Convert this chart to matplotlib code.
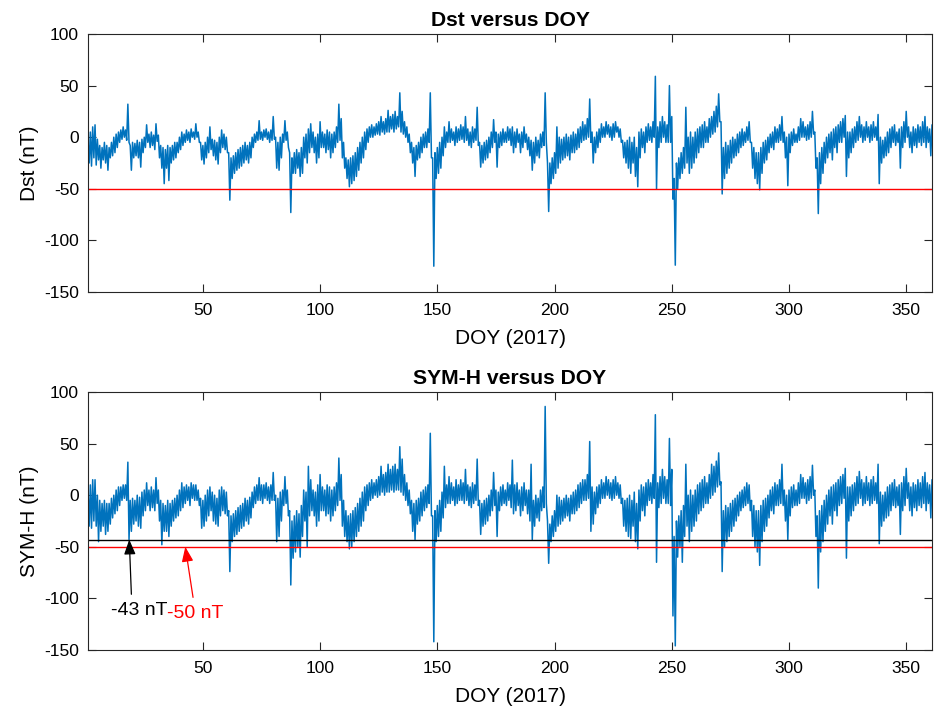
import numpy as np
import matplotlib
matplotlib.use("Agg")
import matplotlib.pyplot as plt

plt.rcParams['font.family'] = ['Liberation Sans', 'DejaVu Sans']
plt.rcParams['axes.unicode_minus'] = False

# Daily high / low estimates (nT), DOY 1..361
dst_hi = [-3, 5, 10, 12, -2, -8, -10, -5, -8, -10,
          -5, 0, 3, 5, 7, 10, 7, 32, -8, -5,
          -6, -3, -5, -2, 0, 12, 3, 5, 2, 13,
          2, -8, -10, -12, -8, -10, -8, -5, -5, 0,
          5, 3, 7, 5, 8, 5, 13, 5, -5, -8,
          -5, 0, 10, -2, -3, -5, 0, 7, 3, 0,
          -15, -20, -18, -15, -12, -10, -8, -5, -8, -5,
          0, 3, 5, 16, 5, 7, 8, 5, 7, 20,
          0, -5, 0, 3, 16, 5, -15, -20, -15, -12,
          -15, -10, 0, 3, 8, 13, 5, 0, 3, 15,
          5, 3, 7, 5, 3, 5, 10, 32, 18, -5,
          -20, -22, -20, -18, -15, -10, -5, 0, 5, 8,
          10, 12, 10, 13, 15, 20, 15, 18, 26, 20,
          22, 25, 20, 43, 25, 15, 10, 3, -5, -10,
          -8, -5, 0, 3, 5, 8, 43, -20, -15, -10,
          -5, 0, 10, 5, 15, 8, 5, 10, 8, 12,
          10, 20, 8, 5, 10, 8, 29, -5, -8, -5,
          -3, 0, 5, 17, 5, 3, 5, 8, 5, 10,
          8, 10, 5, 8, 3, 5, 10, 3, 0, -3,
          -5, 0, -3, 3, 5, 43, -25, -25, -20, -15,
          10, 0, -2, 0, 3, 0, 2, 5, 3, 8,
          10, 15, 12, 18, 37, 5, 0, 5, 8, 13,
          10, 15, 12, 10, 13, 15, 10, 8, -3, -5,
          -3, 0, -5, 0, -10, 5, 8, 5, 10, 13,
          10, 15, 59, 10, 15, 20, 15, 12, 50, 20,
          -40, -25, -20, -15, -10, 29, 0, 5, 0, 5,
          8, 10, 12, 15, 10, 18, 20, 25, 30, 42,
          15, -10, -5, -8, -3, 0, -2, 3, 5, 8,
          5, 10, 15, -5, -10, -15, -15, -10, -5, -3,
          0, 3, 5, 10, 8, 12, 20, 5, 0, 3,
          5, 8, 3, 10, 18, 15, 10, 12, 15, 25,
          5, -20, -15, -10, -5, 0, 3, 5, 8, 10,
          12, 15, 18, 21, 5, 5, 8, 10, 15, 20,
          12, 10, 15, 10, 12, 15, 10, 22, 0, -3,
          0, 5, 8, 10, 12, 5, 8, 10, 15, 25,
          10, 5, 10, 8, 12, 10, 15, 20, 10, 8, 12]
dst_lo = [-25, -28, -20, -27, -22, -30, -22, -25, -32, -20,
          -18, -15, -10, -5, -2, 0, -3, -5, -32, -20,
          -18, -20, -29, -15, -10, -5, -10, -8, -12, -4,
          -20, -30, -45, -30, -42, -25, -22, -20, -15, -12,
          -8, -5, -3, -5, 0, -2, 0, -5, -22, -26,
          -20, -15, -12, -18, -22, -26, -15, -10, -12, -15,
          -61, -40, -35, -32, -30, -28, -25, -22, -25, -20,
          -10, -5, -3, -2, -3, 0, -2, -5, -3, -2,
          -30, -32, -20, -5, -3, -10, -73, -35, -35, -30,
          -38, -35, -20, -25, -15, -10, -15, -25, -20, -10,
          -10, -15, -12, -20, -15, -10, -5, -3, -20, -30,
          -40, -48, -45, -42, -38, -32, -25, -20, -12, -5,
          0, 0, 2, 3, 2, 5, 3, 5, 5, 8,
          5, 8, 10, 5, 3, 0, -5, -15, -25, -38,
          -22, -20, -15, -10, -10, -5, -20, -125, -40, -35,
          -30, -18, -10, -5, -5, -3, -8, -5, -3, -2,
          -5, -3, -8, -10, -5, -3, -8, -29, -25, -22,
          -20, -15, -10, -5, -29, -10, -8, -5, -5, -3,
          -8, -15, -10, -5, -15, -10, -5, -12, -18, -32,
          -25, -18, -20, -10, -8, -5, -72, -45, -40, -35,
          -30, -25, -22, -20, -18, -22, -15, -15, -12, -10,
          -5, -3, -2, 0, -5, -25, -15, -10, -5, 0,
          0, 3, 0, -3, 0, 5, 0, -5, -20, -25,
          -30, -35, -25, -38, -48, -20, -10, -15, -5, -3,
          -5, 0, -50, -10, -5, 0, -5, -5, -5, -60,
          -124, -50, -40, -35, -30, -25, -35, -30, -25, -20,
          -15, -10, -10, -5, -5, 0, 3, 5, 10, 15,
          -55, -40, -35, -30, -25, -20, -18, -15, -10, -8,
          -5, -3, -5, -30, -40, -45, -51, -35, -25, -22,
          -15, -10, -12, -5, -5, -3, -5, -20, -47, -15,
          -8, -5, -5, -3, 0, 0, -3, -2, 0, 3,
          -30, -74, -45, -35, -25, -20, -15, -22, -10, -15,
          -5, -5, 0, -38, -20, -15, -10, -5, -3, 0,
          -5, -3, 0, -5, -3, 0, -3, -45, -25, -20,
          -18, -15, -10, -5, -8, -5, -30, -10, -5, 0,
          -10, -15, -8, -10, -5, -8, -5, -10, -5, -18, -5]
sym_hi = [5, 10, 15, 15, 0, -5, -8, -5, -8, -8,
          -3, 0, 5, 8, 8, 10, 10, 32, -5, -3,
          -5, 0, -2, 3, 5, 12, 5, 8, 5, 17,
          5, -5, -8, -10, -5, -8, -5, -3, 0, 5,
          12, 8, 10, 8, 12, 10, 10, 5, -3, -5,
          0, 5, 8, 3, 0, -3, 5, 8, 5, 3,
          -15, -20, -18, -15, -12, -10, -8, -3, -5, -2,
          3, 8, 10, 17, 10, 10, 12, 8, 10, 22,
          0, -3, 3, 5, 18, 5, -15, -25, -20, -15,
          -18, -10, 5, 3, 28, 15, 5, 3, 10, 20,
          8, 5, 10, 8, 5, 8, 12, 36, 20, -5,
          -15, -20, -18, -15, -12, -8, -3, 3, 8, 10,
          12, 15, 12, 15, 18, 28, 20, 22, 30, 25,
          28, 30, 25, 47, 35, 20, 12, 5, -5, -8,
          -5, -3, 3, 5, 8, 10, 60, -20, -15, -10,
          -5, 3, 28, 10, 18, 12, 8, 15, 10, 15,
          12, 25, 10, 8, 12, 10, 35, -5, -8, -5,
          -3, 0, 5, 22, 5, 3, 8, 10, 5, 12,
          10, 34, 10, 12, 5, 8, 12, 5, 5, 30,
          -5, 0, -3, 5, 8, 86, -25, -28, -20, -15,
          0, -2, -5, -3, 0, -3, 0, 3, 5, 10,
          12, 15, 15, 20, 52, 8, 3, 8, 10, 15,
          12, 18, 15, 12, 15, 18, 12, 10, -3, -5,
          -3, 0, -5, 3, -8, 5, 10, 8, 12, 15,
          12, 20, 78, 12, 18, 25, 18, 15, 55, 25,
          -40, -25, -20, -15, -10, 30, 0, 5, 0, 5,
          10, 12, 15, 18, 12, 20, 30, 28, 33, 41,
          13, -15, -10, -12, -8, -5, -3, 0, 3, 5,
          8, 12, 10, -5, -10, -15, -15, -10, -5, -3,
          0, 5, 8, 12, 10, 15, 30, 5, 0, 5,
          8, 10, 5, 12, 20, 17, 12, 15, 18, 29,
          5, -20, -15, -10, -5, 0, 5, 8, 10, 12,
          15, 18, 20, 26, 8, 8, 10, 12, 18, 23,
          15, 12, 18, 12, 15, 18, 12, 30, 3, 0,
          3, 8, 10, 12, 15, 8, 10, 12, 18, 26,
          12, 8, 12, 10, 15, 12, 18, 22, 12, 10, 15]
sym_lo = [-30, -32, -25, -30, -45, -35, -30, -38, -35, -28,
          -22, -18, -15, -10, -5, -3, -5, -43, -35, -28,
          -25, -30, -32, -20, -15, -10, -15, -12, -15, -8,
          -25, -48, -35, -35, -40, -30, -25, -22, -20, -15,
          -12, -8, -5, -10, -3, -5, -5, -10, -32, -30,
          -25, -20, -15, -25, -28, -30, -20, -15, -18, -20,
          -74, -45, -40, -38, -35, -32, -30, -25, -28, -22,
          -12, -8, -5, -5, -8, -3, -5, -8, -5, -5,
          -45, -40, -25, -10, -8, -20, -87, -61, -55, -50,
          -60, -40, -25, -50, -20, -15, -20, -30, -25, -15,
          -15, -20, -18, -25, -20, -15, -10, -5, -30, -40,
          -45, -52, -50, -45, -40, -35, -30, -25, -15, -10,
          -5, -3, 0, -2, 0, 3, 0, 3, 3, 5,
          3, 5, 5, 3, 0, -5, -10, -18, -35, -43,
          -28, -25, -20, -15, -12, -8, -20, -142, -45, -40,
          -35, -22, -12, -8, -8, -5, -10, -8, -5, -5,
          -8, -5, -10, -12, -8, -5, -10, -38, -30, -28,
          -25, -20, -15, -10, -40, -15, -10, -8, -10, -5,
          -12, -18, -15, -10, -20, -15, -10, -18, -25, -43,
          -30, -22, -25, -15, -12, -8, -66, -45, -40, -35,
          -30, -28, -25, -22, -20, -25, -18, -18, -15, -12,
          -8, -5, -5, -3, -35, -28, -18, -12, -8, -3,
          -3, 0, -3, -5, -3, 0, -3, -8, -30, -35,
          -40, -42, -30, -45, -52, -25, -15, -20, -10, -5,
          -8, -3, -65, -12, -8, -3, -8, -8, -10, -117,
          -146, -60, -50, -65, -40, -30, -45, -35, -30, -25,
          -18, -15, -12, -8, -8, -3, 0, 3, 8, 10,
          -74, -50, -45, -40, -35, -30, -25, -20, -15, -12,
          -10, -8, -15, -40, -50, -55, -68, -45, -35, -30,
          -22, -15, -18, -10, -10, -8, -10, -25, -43, -20,
          -12, -10, -10, -8, -3, -3, -8, -5, -3, 0,
          -40, -90, -55, -45, -35, -28, -20, -28, -15, -20,
          -10, -8, -3, -61, -25, -20, -15, -10, -8, -3,
          -10, -8, -5, -10, -8, -5, -8, -47, -30, -25,
          -22, -20, -15, -10, -12, -10, -38, -15, -10, -3,
          -15, -20, -12, -15, -10, -12, -8, -15, -8, -22, -15]

dst_threshold = -50
sym_threshold = -43
yticks = [-150, -100, -50, 0, 50, 100]
xticks = [50, 100, 150, 200, 250, 300, 350]


def zigzag(hi, lo):
    n = min(len(hi), len(lo))
    days = np.arange(1, n + 1)
    x = np.column_stack([days, days + 0.5]).ravel()
    y = np.column_stack([hi[:n], lo[:n]]).ravel()
    return x, y


W, H = 934, 710
fig = plt.figure(figsize=(W / 100, H / 100), dpi=100)
line_color = '#0072BD'
axc = '#262626'


def style(ax, title, ylabel):
    ax.set_xlim(1, 361)
    ax.set_ylim(-150, 100)
    ax.set_xticks(xticks)
    ax.set_yticks(yticks)
    ax.tick_params(direction='in', top=True, right=True, length=6,
                   labelsize=12.6, colors=axc, labelcolor='black', width=0.8)
    ax.tick_params(axis='x', pad=8)
    ax.tick_params(axis='y', pad=6.5)
    for s in ax.spines.values():
        s.set_color(axc)
        s.set_linewidth(0.8)
    ax.set_title(title, fontsize=15.2, fontweight='bold', pad=5.8)
    ax.set_xlabel('DOY (2017)', fontsize=15, labelpad=7.5)
    ax.set_ylabel(ylabel, fontsize=15, labelpad=4)


ax1 = fig.add_axes([88 / W, (H - 292) / H, 844 / W, 258 / H])
x, y = zigzag(dst_hi, dst_lo)
ax1.plot(x, y, color=line_color, lw=1.1)
ax1.axhline(dst_threshold, color='red', lw=1.0)
style(ax1, 'Dst versus DOY', 'Dst (nT)')

ax2 = fig.add_axes([88 / W, (H - 650) / H, 844 / W, 258 / H])
x, y = zigzag(sym_hi, sym_lo)
ax2.plot(x, y, color=line_color, lw=1.1)
ax2.axhline(sym_threshold, color='black', lw=1.0)
ax2.axhline(dst_threshold, color='red', lw=1.0)
style(ax2, 'SYM-H versus DOY', 'SYM-H (nT)')

ax2.annotate('', xy=(18.6, sym_threshold), xytext=(19.5, -96),
             arrowprops=dict(arrowstyle='-|>,head_length=0.9,head_width=0.35',
                             color='black', lw=0.9, shrinkA=0, shrinkB=0))
ax2.annotate('', xy=(42.5, dst_threshold), xytext=(45.8, -99),
             arrowprops=dict(arrowstyle='-|>,head_length=0.9,head_width=0.35',
                             color='red', lw=0.9, shrinkA=0, shrinkB=0))
ax2.text(10.6, -112, '-43 nT', color='black', fontsize=14, va='center', ha='left')
ax2.text(34.8, -115, '-50 nT', color='red', fontsize=14, va='center', ha='left')

fig.savefig('out.png', dpi=100)
